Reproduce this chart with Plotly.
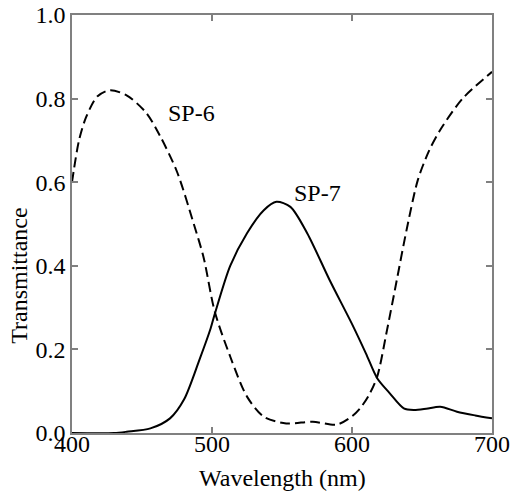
import plotly.graph_objects as go

# SP-6 (dashed)
sp6_wl = [400, 405, 410, 418, 427, 439, 453, 463, 475, 487, 494, 502, 513, 525, 537, 553, 572, 589, 600, 606, 612, 618, 625, 632, 639, 647, 655, 663, 679, 700]
sp6_t = [0.60, 0.70, 0.755, 0.805, 0.82, 0.808, 0.766, 0.71, 0.625, 0.50, 0.42, 0.29, 0.183, 0.087, 0.039, 0.023, 0.027, 0.02, 0.04, 0.06, 0.09, 0.135, 0.246, 0.366, 0.486, 0.605, 0.675, 0.725, 0.80, 0.864]

# SP-7 (solid)
sp7_wl = [400, 430, 439, 456, 470, 480, 491, 499, 502, 513, 525, 537, 546, 556, 568, 584, 601, 610, 618, 627, 637, 644, 653, 663, 675, 688, 700]
sp7_t = [0.0, 0.0, 0.003, 0.011, 0.035, 0.08, 0.175, 0.25, 0.285, 0.40, 0.478, 0.533, 0.553, 0.541, 0.478, 0.366, 0.254, 0.19, 0.131, 0.095, 0.059, 0.055, 0.058, 0.063, 0.051, 0.042, 0.035]

labels = ["SP-6", "SP-7"]
label_pos = [(485, 0.766), (575, 0.574)]

x_ticks = [400, 500, 600, 700]
y_ticks = [0.0, 0.2, 0.4, 0.6, 0.8, 1.0]

x_title = "Wavelength (nm)"
y_title = "Transmittance"

FONT = "Liberation Serif, Times New Roman, serif"

fig = go.Figure()
fig.add_trace(go.Scatter(x=sp6_wl, y=sp6_t, mode="lines",
                         line=dict(color="black", width=2, dash="10px,5px", shape="spline", smoothing=0.8),
                         showlegend=False))
fig.add_trace(go.Scatter(x=sp7_wl, y=sp7_t, mode="lines",
                         line=dict(color="black", width=2, shape="spline", smoothing=0.8),
                         showlegend=False))

for lab, (lx, ly) in zip(labels, label_pos):
    fig.add_annotation(x=lx, y=ly, text=lab, showarrow=False,
                       font=dict(family=FONT, size=24, color="black"))

# axis titles as annotations for precise placement
fig.add_annotation(x=0.5, y=0, xref="paper", yref="paper", text=x_title, showarrow=False,
                   yanchor="middle", yshift=-45, font=dict(family=FONT, size=24, color="black"))
fig.add_annotation(x=0, y=0.376, xref="paper", yref="paper", text=y_title, showarrow=False,
                   textangle=-90, xanchor="center", xshift=-53, font=dict(family=FONT, size=24, color="black"))

axis_common = dict(showline=True, linecolor="#808080", linewidth=1.5, mirror="ticks",
                   ticks="inside", ticklen=6, tickcolor="#808080", tickwidth=1.5,
                   showgrid=False, zeroline=False, automargin=False,
                   tickfont=dict(family=FONT, size=24, color="black"))

fig.update_xaxes(range=[400, 700], tickvals=x_ticks, ticktext=[str(v) for v in x_ticks],
                 ticklabelstandoff=-12, **axis_common)
fig.update_yaxes(range=[0, 1], tickvals=y_ticks, ticktext=[f"{v:.1f}" for v in y_ticks],
                 **axis_common)

fig.update_layout(width=510, height=495, margin=dict(l=72, r=18, t=15, b=62),
                  plot_bgcolor="white", paper_bgcolor="white",
                  font=dict(family=FONT, color="black"))

fig.write_html("out.html", config={"displayModeBar": False},
               post_script="document.body.style.margin='0px';document.body.style.overflow='hidden';")
